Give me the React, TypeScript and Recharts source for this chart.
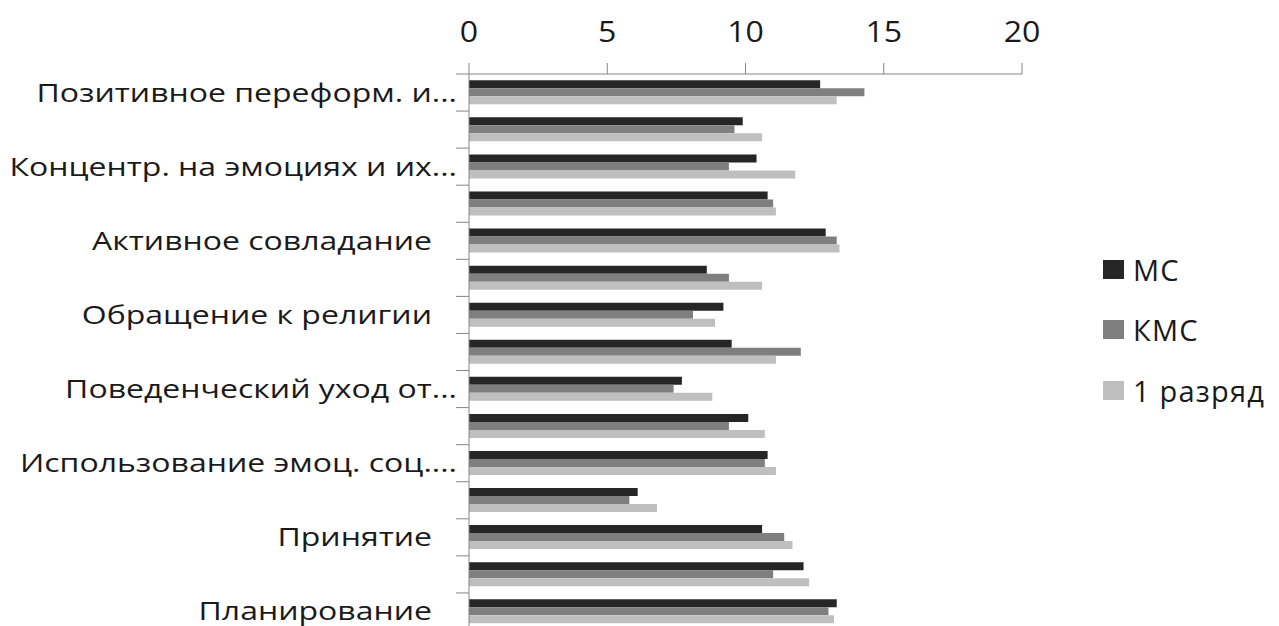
import React from 'react';
import { BarChart, Bar, XAxis, YAxis } from 'recharts';

// COPE scales, top to bottom (only every other label is shown, as in the source)
const categories = [
  'Позитивное переформ. и...',
  'Мысленный уход от проблемы',
  'Концентр. на эмоциях и их...',
  'Использование инструм. соц. поддержки',
  'Активное совладание',
  'Отрицание',
  'Обращение к религии',
  'Юмор',
  'Поведенческий уход от...',
  'Сдерживание',
  'Использование эмоц. соц....',
  'Употребление алкоголя и наркотиков',
  'Принятие',
  'Подавление конкурирующей деятельности',
  'Планирование',
];

const msValues = [12.7, 9.9, 10.4, 10.8, 12.9, 8.6, 9.2, 9.5, 7.7, 10.1, 10.8, 6.1, 10.6, 12.1, 13.3];
const kmsValues = [14.3, 9.6, 9.4, 11.0, 13.3, 9.4, 8.1, 12.0, 7.4, 9.4, 10.7, 5.8, 11.4, 11.0, 13.0];
const razryadValues = [13.3, 10.6, 11.8, 11.1, 13.4, 10.6, 8.9, 11.1, 8.8, 10.7, 11.1, 6.8, 11.7, 12.3, 13.2];

const xTicks = [0, 5, 10, 15, 20];

const SERIES = [
  { key: 'ms', name: 'МС', color: '#262626' },
  { key: 'kms', name: 'КМС', color: '#7f7f7f' },
  { key: 'r1', name: '1 разряд', color: '#bfbfbf' },
];

const FONT = '"Open Sans", sans-serif';
const TEXT = '#1a1a1a';
const AXIS = '#868686';
const LABEL_GAP = 12;
const TICK_LEN = 13;

const data = categories.map((name, i) => ({
  name,
  ms: msValues[i],
  kms: kmsValues[i],
  r1: razryadValues[i],
}));

// Label is stretched a bit (source text is wider than Open Sans).
// Tick marks sit on the band edges, Excel style, so draw them here
// at +-half a band around every shown label.
const CategoryTick = (props: any) => {
  const { x, y, payload } = props;
  const label: string = payload.value;
  const shift = label.endsWith('...') ? 0 : -25;
  const half = payload.offset || 0;
  const axisX = x + LABEL_GAP;
  return (
    <g>
      <line x1={axisX - TICK_LEN} x2={axisX} y1={y - half} y2={y - half} stroke={AXIS} />
      <line x1={axisX - TICK_LEN} x2={axisX} y1={y + half} y2={y + half} stroke={AXIS} />
      <g transform={`translate(${x + shift},${y})`}>
        <text x={0} y={0} dy="0.36em" textAnchor="end" fill={TEXT} fontSize={25} fontFamily={FONT} transform="scale(1.28,1)">
          {label}
        </text>
      </g>
    </g>
  );
};

const ValueTick = (props: any) => {
  const { x, y, payload } = props;
  return (
    <g transform={`translate(${x},${y})`}>
      <text x={0} y={0} textAnchor="middle" fill={TEXT} fontSize={30} fontFamily={FONT} transform="scale(1.07,1)">
        {payload.value}
      </text>
    </g>
  );
};

const LegendBox = () => (
  <div style={{ position: 'absolute', left: 1103, top: 239, fontFamily: FONT, fontSize: 29, color: TEXT, letterSpacing: 1.2 }}>
    {SERIES.map(s => (
      <div key={s.key} style={{ display: 'flex', alignItems: 'center', height: 60.5 }}>
        <span style={{ width: 21, height: 19, background: s.color, marginRight: 9, display: 'inline-block' }} />
        <span>{s.name}</span>
      </div>
    ))}
  </div>
);

export default function App() {
  return (
    <div style={{ position: 'absolute', left: 0, top: 0, width: 1279, height: 626, overflow: 'hidden', background: '#fff' }}>
      <BarChart
        width={1279}
        height={640}
        data={data}
        layout="vertical"
        margin={{ top: 24, right: 257, left: 9, bottom: 10 }}
        barCategoryGap="17%"
        barGap={0}
      >
        <XAxis
          type="number"
          orientation="top"
          domain={[0, 20]}
          ticks={xTicks}
          height={50}
          tickSize={11}
          tickMargin={21}
          stroke={AXIS}
          tick={<ValueTick />}
        />
        <YAxis
          type="category"
          dataKey="name"
          width={460}
          interval={1}
          tickLine={false}
          tickSize={0}
          tickMargin={LABEL_GAP}
          stroke={AXIS}
          tick={<CategoryTick />}
        />
        {SERIES.map(s => (
          <Bar key={s.key} dataKey={s.key} name={s.name} fill={s.color} isAnimationActive={false} />
        ))}
      </BarChart>
      <LegendBox />
    </div>
  );
}
